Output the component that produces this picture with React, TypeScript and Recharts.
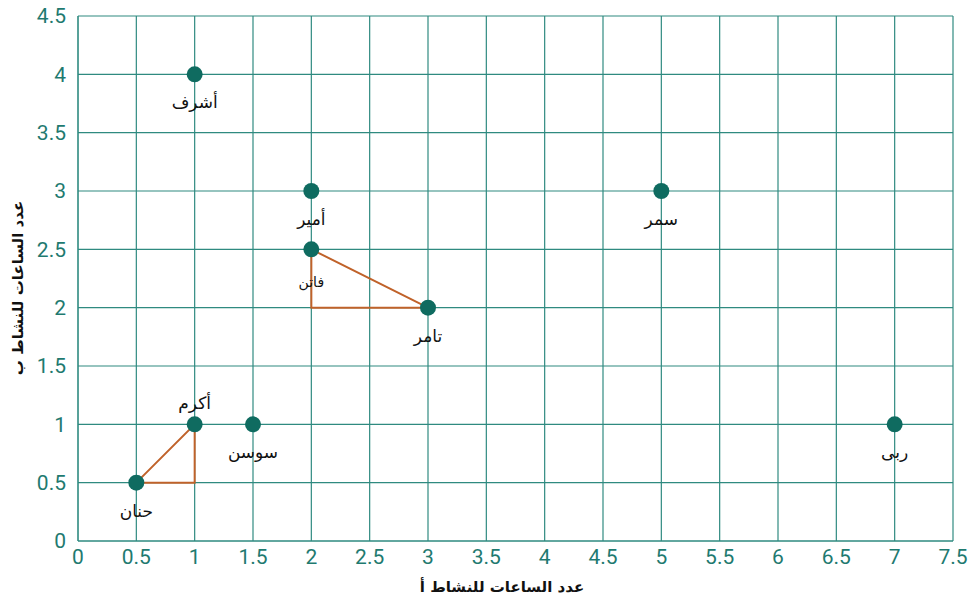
import {
  ScatterChart,
  Scatter,
  XAxis,
  YAxis,
  CartesianGrid,
  Label
} from "recharts"

const names = ["أشرف", "أمير", "فاتن", "تامر", "سمر", "ربى", "أكرم", "سوسن", "حنان"]
const hoursA = [1, 2, 2, 3, 5, 7, 1, 1.5, 0.5]
const hoursB = [4, 3, 2.5, 2, 3, 1, 1, 1, 0.5]

const xTicks = [0, 0.5, 1, 1.5, 2, 2.5, 3, 3.5, 4, 4.5, 5, 5.5, 6, 6.5, 7, 7.5]
const yTicks = [0, 0.5, 1, 1.5, 2, 2.5, 3, 3.5, 4, 4.5]

// two right triangles, closed back to the first corner
const triangle1X = [2, 3, 2, 2]
const triangle1Y = [2.5, 2, 2, 2.5]
const triangle2X = [0.5, 1, 1, 0.5]
const triangle2Y = [0.5, 1, 0.5, 0.5]

const points = names.map((name, i) => ({ name, x: hoursA[i], y: hoursB[i] }))
const tri1 = triangle1X.map((x, i) => ({ x, y: triangle1Y[i] }))
const tri2 = triangle2X.map((x, i) => ({ x, y: triangle2Y[i] }))

const teal = "#0f6b60"
const tickColor = "#1f7a70"
const gridColor = "#2f8a80"
const triColor = "#c0622a"

// label placement relative to the dot
const labelStyle: Record<string, { dy: number; size: number }> = {
  "أكرم": { dy: -21, size: 17 },
  "فاتن": { dy: 33, size: 14 }
}

function Dot(props: any) {
  const { cx, cy, payload } = props
  const st = labelStyle[payload.name] || { dy: 28, size: 17 }
  return (
    <g>
      <circle cx={cx} cy={cy} r={8} fill={teal} />
      <text
        x={cx}
        y={cy + st.dy}
        textAnchor="middle"
        dominantBaseline="central"
        fontSize={st.size}
        fontFamily="DejaVu Sans"
        fill="#111"
      >
        {payload.name}
      </text>
    </g>
  )
}

const titleStyle = { fontFamily: "DejaVu Sans", fontWeight: "bold", fontSize: 15, fill: "#111" }

function YTitle() {
  return (
    <text
      x={18}
      y={288}
      transform="rotate(-90, 18, 288)"
      textAnchor="middle"
      dominantBaseline="central"
      style={titleStyle}
    >
      عدد الساعات للنشاط ب
    </text>
  )
}

function XTitle() {
  return (
    <text x={502} y={587} textAnchor="middle" dominantBaseline="central" style={titleStyle}>
      عدد الساعات للنشاط أ
    </text>
  )
}

export default function App() {
  const tick = { fill: tickColor, fontSize: 21, fontFamily: "Roboto" }
  return (
    <div style={{ position: "absolute", left: 0, top: 0 }}>
      <ScatterChart
        width={969}
        height={603}
        margin={{ top: 16, right: 16, bottom: 32, left: 30 }}
      >
        <CartesianGrid stroke={gridColor} strokeWidth={1.2} />
        <XAxis
          type="number"
          dataKey="x"
          domain={[0, 7.5]}
          ticks={xTicks}
          interval={0}
          tick={tick}
          tickLine={false}
          axisLine={{ stroke: gridColor }}
          height={30}
          tickMargin={2}
        >
          <Label content={XTitle} />
        </XAxis>
        <YAxis
          type="number"
          dataKey="y"
          domain={[0, 4.5]}
          ticks={yTicks}
          interval={0}
          tick={tick}
          tickLine={false}
          axisLine={{ stroke: gridColor }}
          width={48}
          tickMargin={6}
        >
          <Label content={YTitle} />
        </YAxis>
        <Scatter
          data={tri1}
          line={{ stroke: triColor, strokeWidth: 2 }}
          shape={() => <g />}
          isAnimationActive={false}
        />
        <Scatter
          data={tri2}
          line={{ stroke: triColor, strokeWidth: 2 }}
          shape={() => <g />}
          isAnimationActive={false}
        />
        <Scatter data={points} shape={Dot} isAnimationActive={false} />
      </ScatterChart>
    </div>
  )
}
